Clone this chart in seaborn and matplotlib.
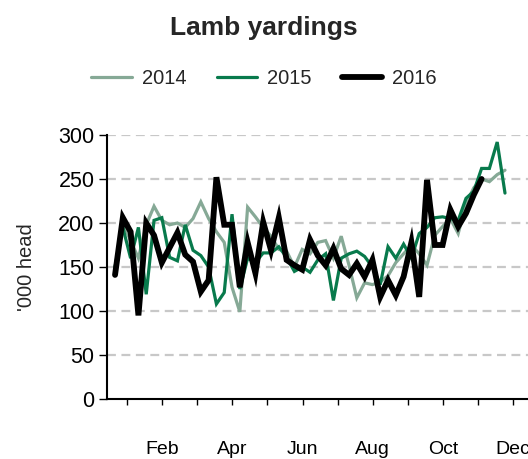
import numpy as np
import pandas as pd
import matplotlib
matplotlib.use("Agg")
import matplotlib.pyplot as plt
import seaborn as sns

# ---- data (weekly lamb yardings, '000 head) ----
y2014 = [150, 200, 180, 160, 198, 219, 203, 198, 200, 195, 205, 224, 205, 190, 178,
         127, 99, 218, 207, 195, 185, 170, 168, 150, 170, 165, 178, 180, 160, 185,
         152, 115, 132, 130, 133, 140, 155, 165, 175, 165, 152, 186, 196, 205, 188,
         222, 240, 250, 247, 255, 260]
y2015 = [150, 195, 160, 195, 119, 203, 206, 161, 157, 198, 169, 163, 150, 108, 121,
         210, 125, 160, 155, 166, 166, 173, 161, 145, 150, 144, 158, 165, 112, 160,
         165, 168, 162, 150, 130, 173, 160, 176, 160, 188, 195, 206, 207, 205, 203,
         228, 236, 262, 262, 292, 234]
y2016 = [141, 206, 190, 95, 200, 186, 155, 172, 189, 164, 156, 122, 135, 252, 198,
         198, 127, 178, 143, 201, 169, 206, 158, 152, 147, 181, 163, 152, 171, 148,
         141, 154, 139, 158, 116, 135, 118, 139, 178, 116, 249, 175, 175, 215, 196,
         211, 232, 250]
years = ["2014", "2015", "2016"]
month_labels = ["", "Feb", "", "Apr", "", "Jun", "", "Aug", "", "Oct", "", "Dec"]
y_ticks = [0, 50, 100, 150, 200, 250, 300]

series = {"2014": y2014, "2015": y2015, "2016": y2016}
frames = []
for yr in years:
    vals = series[yr]
    frames.append(pd.DataFrame({"week": np.arange(1, len(vals) + 1),
                                "head": vals, "year": yr}))
df = pd.concat(frames, ignore_index=True)

colors = {"2014": "#86a996", "2015": "#087a4c", "2016": "#000000"}
widths = {"2014": 2.3, "2015": 2.3, "2016": 4.2}

sns.set_style("white")
plt.rcParams["font.family"] = ["Liberation Sans", "DejaVu Sans"]

fig = plt.figure(figsize=(5.28, 4.59), dpi=100)
ax = fig.add_axes([107 / 528, 1 - 399 / 459, 1 - 107 / 528, (399 - 135) / 459])

for yr in years:
    sub = df[df["year"] == yr]
    sns.lineplot(data=sub, x="week", y="head", color=colors[yr],
                 linewidth=widths[yr], ax=ax, label=yr, legend=False,
                 solid_joinstyle="miter")

ax.set_ylim(0, 300)
ax.set_xlim(-0.03, 53.95)
ax.set_yticks(y_ticks)
ax.set_yticklabels([str(v) for v in y_ticks], fontsize=15.5)
tick_pos = [2.54 + 4.5 * k for k in range(12)]
ax.set_xticks(tick_pos)
ax.set_xticklabels(month_labels, fontsize=14)
ax.tick_params(axis="x", direction="out", length=4, width=1, pad=26, colors="#000000")
ax.tick_params(axis="y", direction="out", length=6, width=1, pad=3, colors="#000000")
ax.tick_params(axis="both", bottom=True, left=True)

for v in y_ticks[1:]:
    ax.axhline(v, color="#c8c8c8", linewidth=1.6, linestyle=(0, (4, 2.5)), zorder=0)

for s in ["top", "right"]:
    ax.spines[s].set_visible(False)
for s in ["left", "bottom"]:
    ax.spines[s].set_color("#000000")
    ax.spines[s].set_linewidth(1.5)

ax.set_xlabel("")
ax.set_ylabel("'000 head", fontsize=14.5, labelpad=16)

fig.text(0.5, 1 - 28 / 459, "Lamb yardings", ha="center", va="center",
         fontsize=19, fontweight="bold")

handles, labels = ax.get_legend_handles_labels()
fig.legend(handles, labels, loc="center", bbox_to_anchor=(0.5, 1 - 79 / 459),
           ncol=3, frameon=False, fontsize=14.5, handlelength=2.0,
           handletextpad=0.5, columnspacing=1.5)

fig.savefig("out.png", dpi=100)
